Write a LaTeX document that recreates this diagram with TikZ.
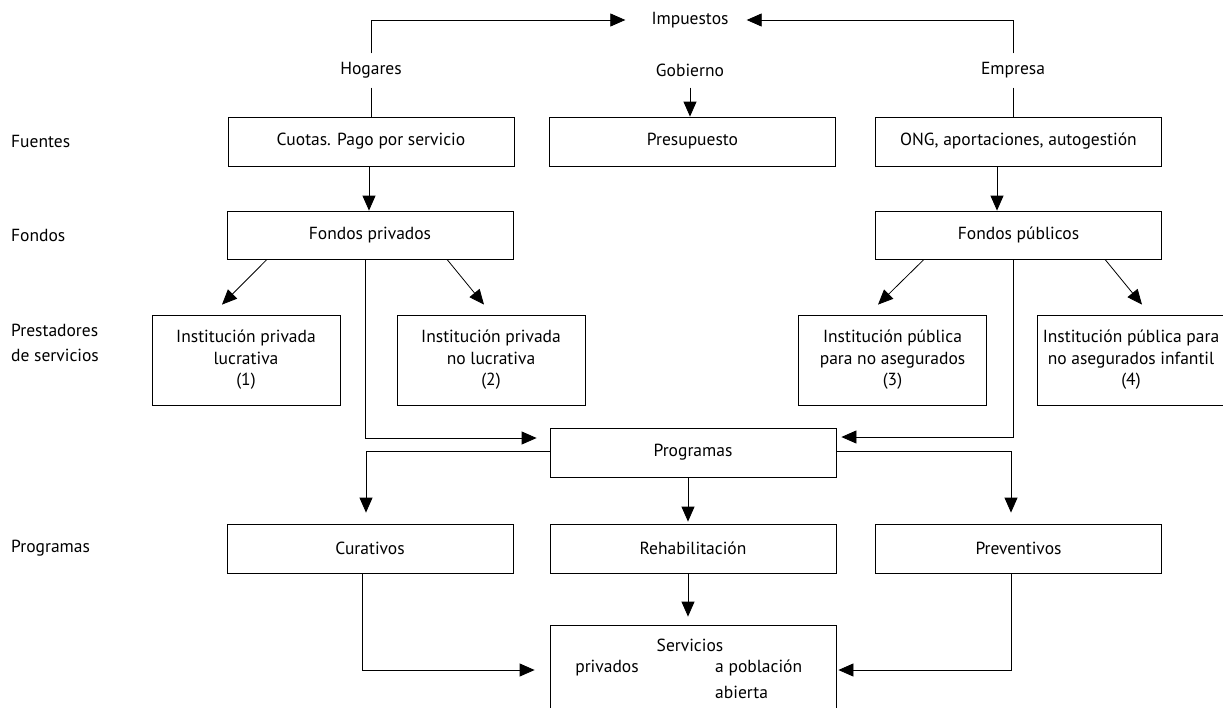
\documentclass[tikz,border=0pt]{standalone}
\usepackage{fontspec}
\setmainfont{PT Sans}
\usetikzlibrary{arrows.meta}
\tikzset{
  box/.style={draw, line width=0.8pt, inner sep=0pt, minimum width=286pt, minimum height=49pt, align=center},
  ibox/.style={draw, line width=0.8pt, inner sep=0pt, minimum width=188pt, minimum height=90pt, align=center, font=\fontsize{17.5}{21.5}\selectfont},
  lbl/.style={inner sep=0pt, minimum height=34pt},
  side/.style={inner sep=0pt, anchor=west, align=left},
  conn/.style={line width=0.8pt},
  arr/.style={line width=0.8pt, -{Triangle[length=15pt,width=13pt]}}
}
\begin{document}
\begin{tikzpicture}[x=1pt,y=-1pt,font=\fontsize{17.5}{24}\selectfont]
\useasboundingbox (0,0) rectangle (1223,707);
\clip (0,0) rectangle (1223,707);
% top labels
\node[inner sep=0pt] (imp) at (690,20) {Impuestos};
\node[lbl] (hog) at (371,70.5) {Hogares};
\node[lbl] (gob) at (690,70.5) {Gobierno};
\node[lbl] (emp) at (1013,70.5) {Empresa};
% side labels
\node[side] (sfu) at (11,141.5) {Fuentes};
\node[side] (sfo) at (11,235) {Fondos};
\node[side,font=\fontsize{17.5}{25}\selectfont] (spr) at (11,343) {Prestadores\\de servicios};
\node[side] (spg) at (11,548.5) {Programas};
% boxes
\node[box] (cuotas) at (371,141.5) {Cuotas. Pago por servicio};
\node[box] (presup) at (692.5,141.5) {Presupuesto};
\node[box] (ong) at (1018.5,141.5) {ONG, aportaciones, autogestión};
\node[box,minimum height=48pt] (fpriv) at (370,235) {Fondos privados};
\node[box,minimum height=48pt] (fpub) at (1018.5,235) {Fondos públicos};
\node[ibox] (i1) at (246,360) {Institución privada\\lucrativa\\(1)};
\node[ibox] (i2) at (491,360) {Institución privada\\no lucrativa\\(2)};
\node[ibox] (i3) at (892.5,360) {Institución pública\\para no asegurados\\(3)};
\node[ibox] (i4) at (1131,360) {Institución pública para\\no asegurados infantil\\(4)};
\node[box] (prog) at (693,452.5) {Programas};
\node[box] (cur) at (370,548.5) {Curativos};
\node[box] (rehab) at (693,548.5) {Rehabilitación};
\node[box] (prev) at (1018.5,548.5) {Preventivos};
\node[box,minimum height=95pt] (serv) at (693,672.5) {};
\node[inner sep=0pt] (sv1) at (690,645) {Servicios};
\node[inner sep=0pt] (sv2) at (607,668) {privados};
\node[inner sep=0pt,anchor=west] (sv3) at (715,668) {a población};
\node[inner sep=0pt,anchor=west] (sv4) at (715,692) {abierta};
% top connectors
\draw[arr] (hog.north) |- ([xshift=-26pt]imp.west);
\draw[conn] (hog.south) -- (hog.south |- cuotas.north);
\draw[arr] (emp.north) |- ([xshift=18pt]imp.east);
\draw[conn] (emp.south) -- (emp.south |- ong.north);
\draw[arr] (gob.south) -- (gob.south |- presup.north);
% fuentes to fondos
\draw[arr] ([xshift=-2pt]cuotas.south) -- ([xshift=-1pt]fpriv.north);
\draw[arr] ([xshift=-21.5pt]ong.south) -- ([xshift=-21.5pt]fpub.north);
% fondos to prestadores
\draw[arr] ([xshift=-103pt]fpriv.south) -- ([xshift=-24pt,yshift=10pt]i1.north);
\draw[arr] ([xshift=77pt]fpriv.south) -- ([xshift=-7pt,yshift=10pt]i2.north);
\draw[arr] ([xshift=-94.5pt]fpub.south) -- ([xshift=-14.5pt,yshift=10pt]i3.north);
\draw[arr] ([xshift=86.5pt]fpub.south) -- ([xshift=11pt,yshift=10pt]i4.north);
% fondos to programas
\draw[arr] ([xshift=-5pt]fpriv.south) |- ([xshift=-13pt,yshift=14.5pt]prog.west);
\draw[arr] ([xshift=-5.5pt]fpub.south) |- ([xshift=5pt,yshift=15.5pt]prog.east);
% programas to program types
\draw[arr] ([yshift=1.5pt]prog.west) -| ([xshift=-4pt,yshift=11pt]cur.north);
\draw[arr] ([yshift=1.5pt]prog.east) -| ([xshift=-7.5pt,yshift=11pt]prev.north);
\draw[arr] ([xshift=-5pt]prog.south) -- ([xshift=-5pt,yshift=2pt]rehab.north);
% to servicios
\draw[arr] ([xshift=-5pt]rehab.south) -- ([xshift=-5pt,yshift=8pt]serv.north);
\draw[arr] ([xshift=-8pt]cur.south) |- ([xshift=-15pt,yshift=2.5pt]serv.west);
\draw[arr] ([xshift=-7.5pt]prev.south) |- ([xshift=2pt,yshift=2.5pt]serv.east);
\end{tikzpicture}
\end{document}
